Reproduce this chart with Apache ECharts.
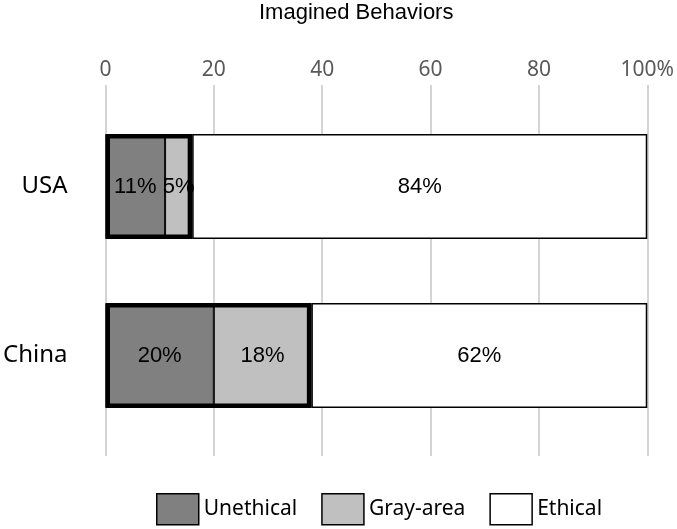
<!DOCTYPE html>
<html>
<head>
<meta charset="utf-8">
<script src="https://cdn.jsdelivr.net/npm/echarts@6/dist/echarts.min.js"></script>
<style>html,body{margin:0;padding:0;background:#fff;}#c{width:677px;height:529px;}</style>
</head>
<body>
<div id="c"></div>
<script>
const categories = ['USA', 'China'];
const unethical = [11, 20];
const grayArea = [5, 18];
const ethical = [84, 62];
const tickValues = [0, 20, 40, 60, 80, 100];
const seriesNames = ['Unethical', 'Gray-area', 'Ethical'];

const outline = unethical.map((v, i) => v + grayArea[i]);

const chart = echarts.init(document.getElementById('c'), null, {renderer: 'canvas'});
const catFont = 'Noto Sans';
const labelStyle = {show: true, position: 'inside', formatter: '{c}%', color: '#000', fontFamily: 'Liberation Sans', fontSize: 22};
const BW = 105;

chart.setOption({
  animation: false,
  title: {
    text: 'Imagined Behaviors', left: 254, top: -3,
    textStyle: {fontFamily: 'Liberation Sans', fontSize: 22, fontWeight: 'normal', color: '#000'}
  },
  legend: {
    left: 151, top: 488, itemWidth: 42, itemHeight: 31, itemGap: 24, icon: 'rect',
    textStyle: {fontFamily: catFont, fontSize: 21, color: '#000'},
    data: [
      {name: seriesNames[0], itemStyle: {color: '#808080', borderColor: '#000', borderWidth: 1.5}},
      {name: seriesNames[1], itemStyle: {color: '#c0c0c0', borderColor: '#000', borderWidth: 1.5}},
      {name: seriesNames[2], itemStyle: {color: '#ffffff', borderColor: '#000', borderWidth: 1.5}}
    ]
  },
  grid: {left: 104, right: 29, top: 102, bottom: 89, containLabel: false},
  xAxis: [
    {
      type: 'value', position: 'top', min: 0, max: 100, interval: 20,
      axisLine: {show: false},
      axisTick: {show: true, length: 17, lineStyle: {color: '#d4d4d4', width: 2}},
      splitLine: {show: true, lineStyle: {color: '#d4d4d4', width: 2}},
      axisLabel: {
        margin: 21, color: '#595959', fontFamily: catFont, fontSize: 21,
        formatter: v => (v === tickValues[tickValues.length - 1] ? v + '%' : String(v))
      }
    },
    {
      type: 'value', position: 'bottom', min: 0, max: 100, interval: 20,
      axisLine: {show: false},
      axisTick: {show: true, length: 16, lineStyle: {color: '#d4d4d4', width: 2}},
      splitLine: {show: false},
      axisLabel: {show: false}
    }
  ],
  yAxis: {
    type: 'category', data: categories, inverse: true,
    axisLine: {show: false}, axisTick: {show: false},
    axisLabel: {margin: 38, color: '#000', fontFamily: catFont, fontSize: 24}
  },
  series: [
    {name: seriesNames[0], type: 'bar', stack: 'a', data: unethical, barWidth: BW,
     itemStyle: {color: '#808080', borderColor: '#000', borderWidth: 1}, label: labelStyle},
    {name: seriesNames[1], type: 'bar', stack: 'a', data: grayArea, barWidth: BW,
     itemStyle: {color: '#c0c0c0', borderColor: '#000', borderWidth: 1}, label: labelStyle},
    {name: seriesNames[2], type: 'bar', stack: 'a', data: ethical, barWidth: BW,
     itemStyle: {color: '#ffffff', borderColor: '#000', borderWidth: 1.5}, label: labelStyle},
    {name: 'outline', type: 'bar', data: outline, barWidth: BW, barGap: '-100%', z: 5, silent: true,
     itemStyle: {color: 'rgba(0,0,0,0)', borderColor: '#000', borderWidth: 4.5}, label: {show: false}}
  ]
});
</script>
</body>
</html>
